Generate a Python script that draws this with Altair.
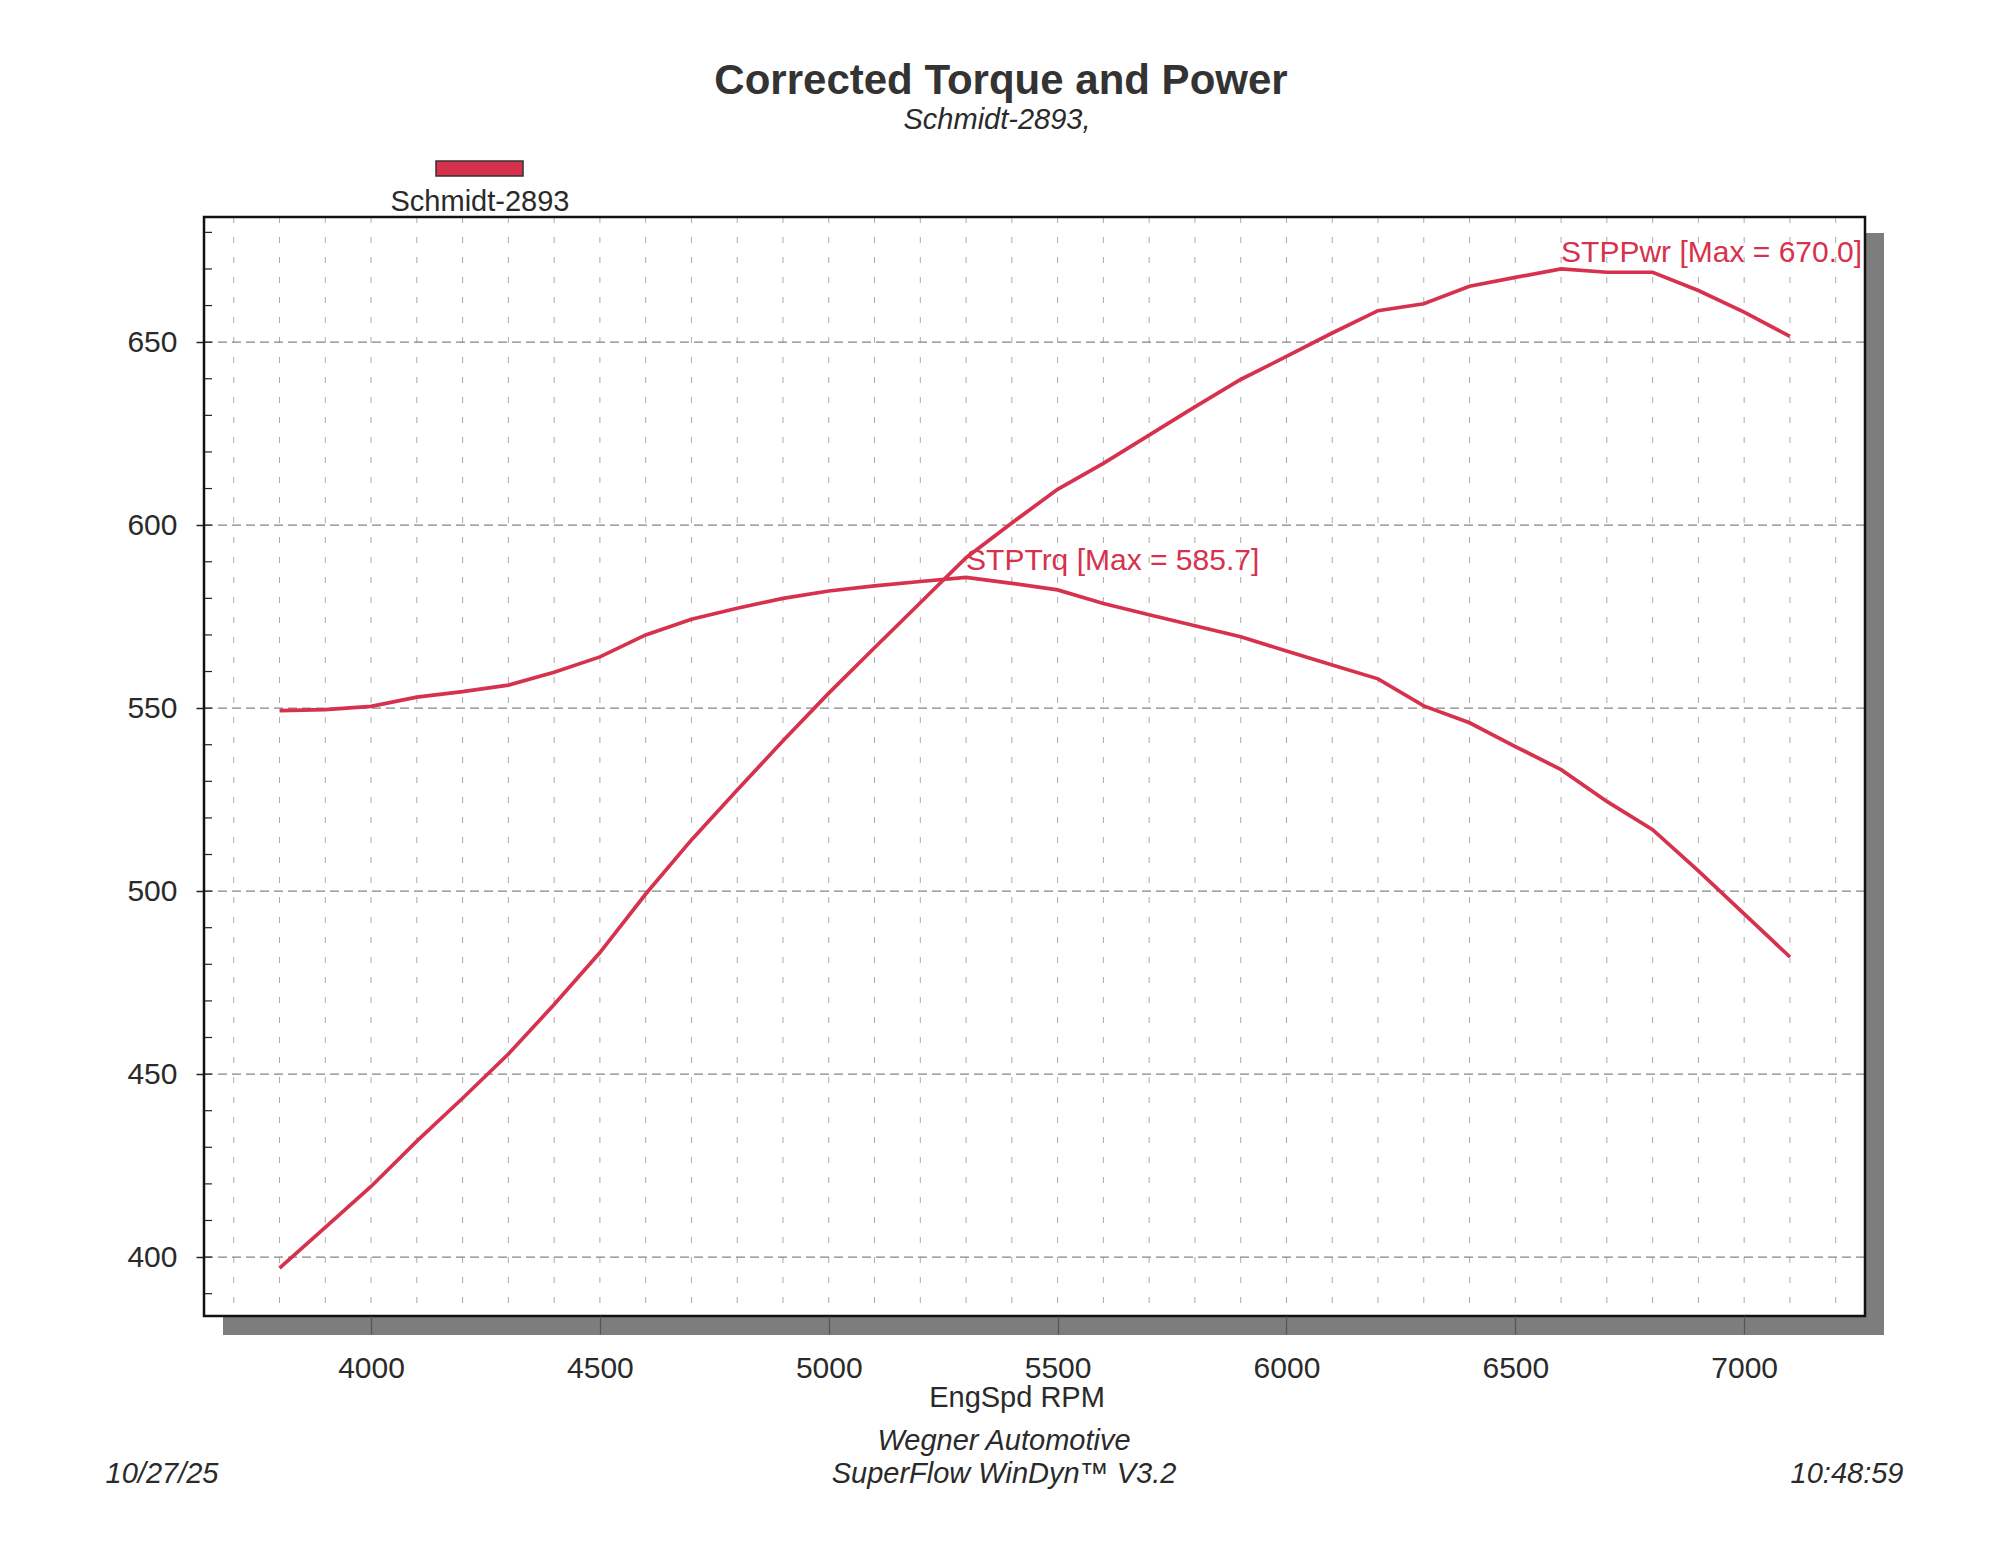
import altair as alt
import pandas as pd

# ---------------- data ----------------
rpm = [3800, 3900, 4000, 4100, 4200, 4300, 4400, 4500, 4600, 4700, 4800, 4900,
       5000, 5100, 5200, 5300, 5400, 5500, 5600, 5700, 5800, 5900, 6000, 6100,
       6200, 6300, 6400, 6500, 6600, 6700, 6800, 6900, 7000, 7100]
torque = [549.3, 549.6, 550.5, 553.0, 554.5, 556.3, 559.8, 564.0, 570.0, 574.3, 577.3, 580.0,
          582.0, 583.4, 584.6, 585.7, 584.1, 582.3, 578.6, 575.5, 572.5, 569.5, 565.6, 561.8,
          558.0, 550.6, 546.0, 539.5, 533.2, 524.5, 516.8, 505.5, 493.8, 482.0]
power = [397.0, 408.1, 419.3, 431.7, 443.4, 455.5, 469.0, 483.2, 499.2, 514.0, 527.6, 541.1,
         554.1, 566.5, 578.8, 591.1, 600.6, 609.8, 616.9, 624.6, 632.3, 639.8, 646.1, 652.5,
         658.6, 660.5, 665.3, 667.7, 670.0, 669.1, 669.1, 664.1, 658.2, 651.6]
series_names = ["STPTrq", "STPPwr"]
run_name = "Schmidt-2893"
x_ticks = [4000, 4500, 5000, 5500, 6000, 6500, 7000]
y_ticks = [400, 450, 500, 550, 600, 650]
x_grid = list(range(3700, 7300, 100))
y_minor = list(range(390, 690, 10))

title_text = "Corrected Torque and Power"
subtitle_text = "Schmidt-2893,"
x_title = "EngSpd RPM"
footer1 = "Wegner Automotive"
footer2 = "SuperFlow WinDyn\u2122 V3.2"
date_text = "10/27/25"
time_text = "10:48:59"

# ---------------- layout ----------------
W, H = 1661, 1099
XD = [3635, 7264]
YD = [383.9, 684.2]
RED = "#d6324d"
TXT = "#2a2a2a"
FONT = "Liberation Sans"

n = len(rpm)
df = pd.DataFrame({
    "rpm": rpm * 2,
    "value": torque + power,
    "series": [series_names[0]] * n + [series_names[1]] * n,
})

ann_rows = []
for name, vals in zip(series_names, [torque, power]):
    m = max(vals)
    i = vals.index(m)
    ann_rows.append({"rpm": rpm[i], "value": m, "label": f"{name} [Max = {m:.1f}]"})
ann = pd.DataFrame(ann_rows)

xs = alt.Scale(domain=XD, nice=False, zero=False)
ys = alt.Scale(domain=YD, nice=False, zero=False)
X_AX = alt.Axis(values=x_ticks, format="d", domain=False, grid=False,
                tickSize=18, tickColor="#555", tickWidth=1.2,
                labelFontSize=30, labelFont=FONT, labelColor=TXT,
                labelPadding=19, title=None, zindex=1)
Y_AX = alt.Axis(values=y_ticks, format="d", domain=False, grid=False,
                tickSize=8, tickColor="#222", tickWidth=1.5,
                labelFontSize=30, labelFont=FONT, labelColor=TXT,
                labelPadding=19, title=None)


def X(field):
    return alt.X(field, scale=xs, axis=X_AX, title=None)


def Y(field):
    return alt.Y(field, scale=ys, axis=Y_AX, title=None)


one = pd.DataFrame({"k": [0]})

# shadow
shadow_r = alt.Chart(one).mark_rect(color="#7d7d7d").encode(
    x=alt.value(W + 1), x2=alt.value(W + 19), y=alt.value(16), y2=alt.value(H + 19))
shadow_b = alt.Chart(one).mark_rect(color="#7d7d7d").encode(
    x=alt.value(19), x2=alt.value(W + 19), y=alt.value(H + 1), y2=alt.value(H + 19))
bg = alt.Chart(one).mark_rect(color="white").encode(
    x=alt.value(0), x2=alt.value(W), y=alt.value(0), y2=alt.value(H))

vgrid = alt.Chart(pd.DataFrame({"g": x_grid})).mark_rule(
    color="#ababab", strokeWidth=1, strokeDash=[6, 14]).encode(x=X("g:Q"))
hgrid = alt.Chart(pd.DataFrame({"g": y_ticks})).mark_rule(
    color="#858585", strokeWidth=1.4, strokeDash=[9, 5]).encode(y=Y("g:Q"))
minor = alt.Chart(pd.DataFrame({"m": y_minor})).mark_rule(
    color="#222", strokeWidth=1.2).encode(
    y=Y("m:Q"), x=alt.value(0), x2=alt.value(8))

lines = alt.Chart(df).mark_line(color=RED, strokeWidth=3.7).encode(
    x=X("rpm:Q"), y=Y("value:Q"), detail="series:N")

labels = alt.Chart(ann).mark_text(
    align="left", baseline="alphabetic", dy=-7, fontSize=30, font=FONT, color=RED).encode(
    x=X("rpm:Q"), y=Y("value:Q"), text="label:N")

frame = alt.Chart(one).mark_rect(fillOpacity=0, stroke="#111", strokeWidth=2.5).encode(
    x=alt.value(0), x2=alt.value(W), y=alt.value(0), y2=alt.value(H))


def txt(s, x, y, size=30, weight="normal", style="normal", align="center", color=TXT):
    return alt.Chart(pd.DataFrame({"t": [s]})).mark_text(
        align=align, baseline="alphabetic", fontSize=size, fontWeight=weight,
        fontStyle=style, font=FONT, color=color).encode(
        text="t:N", x=alt.value(x), y=alt.value(y))


legend_rect = alt.Chart(one).mark_rect(color=RED, stroke="#333", strokeWidth=1.5).encode(
    x=alt.value(232), x2=alt.value(319), y=alt.value(-56), y2=alt.value(-41))

texts = [
    txt(title_text, 797, -123, size=42, weight="bold", color="#333"),
    txt(subtitle_text, 793, -88, size=29, style="italic"),
    txt(run_name, 276, -6, size=29),
    txt(x_title, 813, 1190, size=29),
    txt(footer1, 800, 1233, size=29, style="italic"),
    txt(footer2, 800, 1266, size=29, style="italic"),
    txt(date_text, -42, 1266, size=29, style="italic"),
    txt(time_text, 1643, 1266, size=29, style="italic"),
]

chart = alt.layer(
    shadow_r, shadow_b, bg, vgrid, hgrid, minor, lines, labels, frame, legend_rect, *texts
).properties(
    width=W, height=H,
    autosize=alt.AutoSizeParams(type="none"),
    padding={"left": 204, "top": 217, "right": 135, "bottom": 237},
    background="white",
).configure_view(strokeWidth=0)

chart.save("out.html", embed_options={"renderer": "svg", "actions": False})
